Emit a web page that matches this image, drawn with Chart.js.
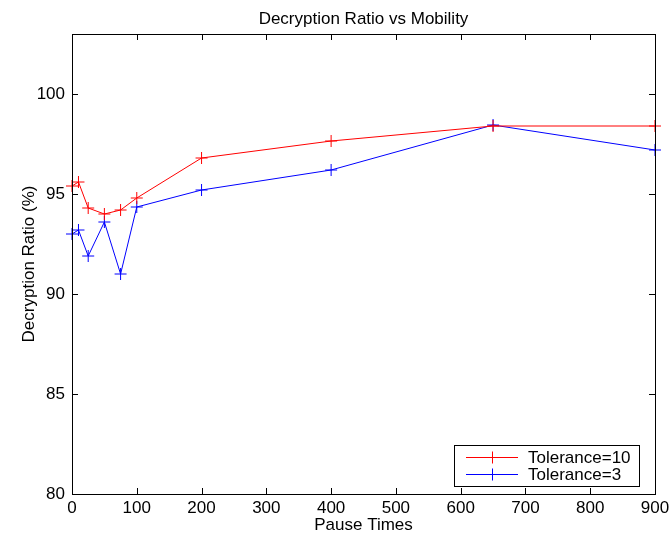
<!DOCTYPE html>
<html>
<head>
  <meta charset="UTF-8" />
  <title>Decryption Ratio vs Mobility</title>
  <script src="https://cdn.jsdelivr.net/npm/chart.js"></script>
  <style>
    html, body { margin: 0; padding: 0; background: #fff; }
    #wrap { width: 670px; height: 534px; }
  </style>
</head>
<body>
  <div id="wrap"><canvas id="ratioChart" width="670" height="534"></canvas></div>

  <script>
    // data
    const pauseTimes = [0, 10, 25, 50, 75, 100, 200, 400, 650, 900];
    const tol10 = [95.4, 95.6, 94.3, 94.0, 94.2, 94.8, 96.8, 97.65, 98.4, 98.4];
    const tol3 = [93.0, 93.2, 91.9, 93.6, 91.0, 94.35, 95.2, 96.2, 98.45, 97.2];
    const xTicks = [0, 100, 200, 300, 400, 500, 600, 700, 800, 900];
    const yTicks = [80, 85, 90, 95, 100];

    const FONT = 'Liberation Sans, Arial, Helvetica, sans-serif';
    const FSIZE = 17;

    // matlab style: box, inward ticks on all sides, title, axis labels and legend inside
    const matlabBox = {
      id: 'matlabBox',
      afterDraw(chart) {
        const ctx = chart.ctx;
        const a = chart.chartArea;
        const xs = chart.scales.x, ys = chart.scales.y;
        ctx.save();
        ctx.strokeStyle = '#000';
        ctx.lineWidth = 1;
        ctx.strokeRect(Math.round(a.left) + 0.5, Math.round(a.top) + 0.5,
          Math.round(a.right - a.left), Math.round(a.bottom - a.top));
        ctx.beginPath();
        xTicks.forEach(v => {
          const px = Math.round(xs.getPixelForValue(v)) + 0.5;
          ctx.moveTo(px, a.bottom); ctx.lineTo(px, a.bottom - 6);
          ctx.moveTo(px, a.top); ctx.lineTo(px, a.top + 6);
        });
        yTicks.forEach(v => {
          const py = Math.round(ys.getPixelForValue(v)) + 0.5;
          ctx.moveTo(a.left, py); ctx.lineTo(a.left + 6, py);
          ctx.moveTo(a.right, py); ctx.lineTo(a.right - 6, py);
        });
        ctx.stroke();

        // title and axis labels
        ctx.fillStyle = '#000';
        ctx.font = FSIZE + 'px ' + FONT;
        ctx.textAlign = 'center';
        ctx.textBaseline = 'middle';
        ctx.fillText('Decryption Ratio vs Mobility', (a.left + a.right) / 2, 19);
        ctx.fillText('Pause Times', (a.left + a.right) / 2, 525);
        ctx.save();
        ctx.translate(29, (a.top + a.bottom) / 2);
        ctx.rotate(-Math.PI / 2);
        ctx.fillText('Decryption Ratio (%)', 0, 0);
        ctx.restore();

        // legend box
        const lx = 454, ly = 445, lw = 185, lh = 41;
        ctx.fillStyle = '#fff';
        ctx.fillRect(lx, ly, lw, lh);
        ctx.strokeRect(lx + 0.5, ly + 0.5, lw, lh);
        ctx.textAlign = 'left';
        chart.data.datasets.forEach((ds, i) => {
          const ry = ly + 12.5 + i * 17;
          ctx.strokeStyle = ds.borderColor;
          ctx.beginPath();
          ctx.moveTo(466, ry); ctx.lineTo(518, ry);
          ctx.moveTo(492.5, ry - 6); ctx.lineTo(492.5, ry + 6);
          ctx.stroke();
          ctx.fillStyle = '#000';
          ctx.fillText(ds.label, 528, ry + 1);
        });
        ctx.restore();
      }
    };

    new Chart(document.getElementById('ratioChart'), {
      type: 'line',
      data: {
        labels: pauseTimes,
        datasets: [
          {
            label: 'Tolerance=10',
            data: pauseTimes.map((x, i) => ({ x: x, y: tol10[i] })),
            borderColor: '#ff0000',
            backgroundColor: '#ff0000',
            borderWidth: 1,
            pointStyle: 'cross',
            pointRadius: 6,
            pointBorderWidth: 1,
            tension: 0,
            clip: false
          },
          {
            label: 'Tolerance=3',
            data: pauseTimes.map((x, i) => ({ x: x, y: tol3[i] })),
            borderColor: '#0000ff',
            backgroundColor: '#0000ff',
            borderWidth: 1,
            pointStyle: 'cross',
            pointRadius: 6,
            pointBorderWidth: 1,
            tension: 0,
            clip: false
          }
        ]
      },
      options: {
        responsive: false,
        animation: false,
        layout: { padding: { top: 34, right: 15, left: 0, bottom: 0 } },
        plugins: {
          legend: { display: false },
          title: { display: false },
          tooltip: { enabled: false }
        },
        scales: {
          x: {
            type: 'linear',
            min: 0,
            max: 900,
            afterBuildTicks(s) { s.ticks = xTicks.map(v => ({ value: v })); },
            afterFit(s) { s.height = 40; s.paddingLeft = 0; s.paddingRight = 0; },
            grid: { display: false, drawTicks: false },
            border: { display: false },
            ticks: { color: '#000', font: { family: FONT, size: FSIZE }, padding: 4, maxRotation: 0 }
          },
          y: {
            min: 80,
            max: 103,
            afterBuildTicks(s) { s.ticks = yTicks.map(v => ({ value: v })); },
            afterFit(s) { s.width = 72; s.paddingTop = 0; s.paddingBottom = 0; },
            grid: { display: false, drawTicks: false },
            border: { display: false },
            ticks: { color: '#000', font: { family: FONT, size: FSIZE }, padding: 7 }
          }
        }
      },
      plugins: [matlabBox]
    });
  </script>
</body>
</html>
